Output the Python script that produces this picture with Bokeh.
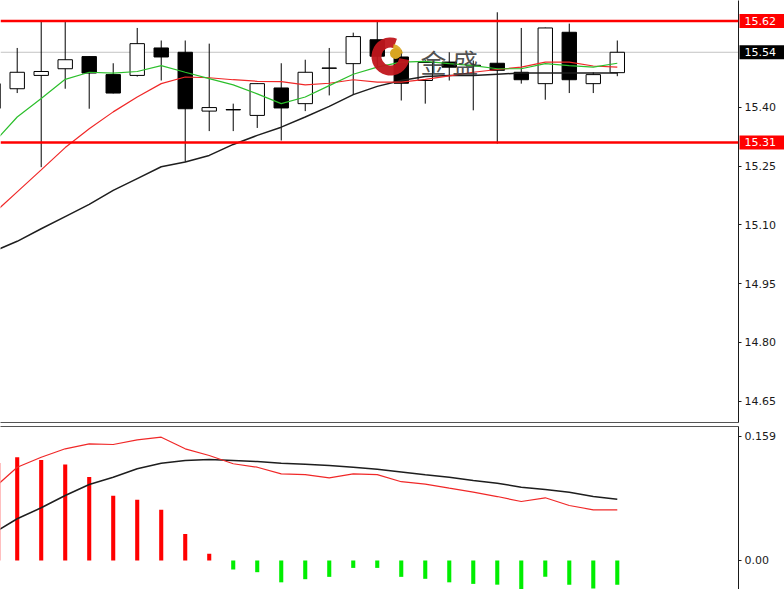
from bokeh.plotting import figure
from bokeh.models import Span, FixedTicker, Range1d, ColumnDataSource, NumeralTickFormatter, GridBox
from bokeh.core.properties import value
from bokeh.embed import file_html
from bokeh.resources import INLINE

# ---------------- data ----------------
bars = list(range(-1, 26))
opens = [15.397, 15.447, 15.481, 15.498, 15.529, 15.483, 15.481, 15.551, 15.540, 15.390,
         15.394, 15.379, 15.449, 15.409, 15.499, 15.511, 15.572, 15.528, 15.468, 15.515,
         15.505, 15.512, 15.489, 15.460, 15.591, 15.460, 15.488]
highs = [15.480, 15.551, 15.621, 15.621, 15.530, 15.512, 15.602, 15.570, 15.570, 15.562,
         15.409, 15.461, 15.512, 15.521, 15.551, 15.590, 15.619, 15.545, 15.520, 15.540,
         15.519, 15.642, 15.602, 15.603, 15.613, 15.489, 15.570]
lows = [15.370, 15.436, 15.247, 15.447, 15.396, 15.435, 15.478, 15.468, 15.260, 15.339,
        15.339, 15.347, 15.315, 15.390, 15.430, 15.432, 15.500, 15.417, 15.409, 15.468,
        15.392, 15.307, 15.460, 15.419, 15.436, 15.436, 15.479]
closes = [15.460, 15.489, 15.491, 15.521, 15.487, 15.436, 15.562, 15.528, 15.396, 15.399,
          15.393, 15.460, 15.398, 15.489, 15.500, 15.580, 15.530, 15.461, 15.514, 15.502,
          15.507, 15.494, 15.470, 15.602, 15.470, 15.483, 15.540]

ma_fast = [15.308, 15.375, 15.422, 15.471, 15.489, 15.487, 15.491, 15.506, 15.489, 15.473,
           15.457, 15.434, 15.409, 15.426, 15.455, 15.484, 15.502, 15.515, 15.517, 15.511,
           15.506, 15.498, 15.498, 15.511, 15.506, 15.502, 15.512]
ma_mid = [15.128, 15.184, 15.240, 15.297, 15.345, 15.388, 15.426, 15.460, 15.477, 15.475,
          15.470, 15.466, 15.465, 15.457, 15.461, 15.470, 15.464, 15.464, 15.471, 15.480,
          15.489, 15.496, 15.502, 15.515, 15.515, 15.505, 15.502]
ma_slow = [15.032, 15.058, 15.090, 15.121, 15.152, 15.188, 15.218, 15.248, 15.260, 15.277,
           15.305, 15.328, 15.349, 15.375, 15.402, 15.432, 15.453, 15.468, 15.478, 15.481,
           15.481, 15.484, 15.487, 15.487, 15.487, 15.487, 15.487]

macd_hist = [0.125, 0.1325, 0.129, 0.123, 0.107, 0.083, 0.078, 0.065, 0.034, 0.0086,
             -0.0115, -0.015, -0.028, -0.024, -0.021, -0.0095, -0.0095, -0.021, -0.0235, -0.028,
             -0.030, -0.031, -0.040, -0.021, -0.031, -0.036, -0.031]
macd_dif = [0.092, 0.1196, 0.1324, 0.1432, 0.1496, 0.1487, 0.1547, 0.1581, 0.1432, 0.1346,
            0.124, 0.1196, 0.111, 0.110, 0.106, 0.111, 0.110, 0.101, 0.098, 0.0927,
            0.0876, 0.082, 0.0756, 0.0804, 0.0705, 0.065, 0.065]
macd_dea = [0.035, 0.0535, 0.0676, 0.0833, 0.0974, 0.1068, 0.1176, 0.1247, 0.1282, 0.1295,
            0.1282, 0.1269, 0.1247, 0.1235, 0.1218, 0.1196, 0.1171, 0.1135, 0.1099, 0.1068,
            0.1026, 0.0991, 0.094, 0.091, 0.0876, 0.082, 0.0786]

price_ticks = [15.40, 15.25, 15.10, 14.95, 14.80, 14.65]
level_lines = [15.62, 15.31]
tag_prices = [15.62, 15.31, 15.54]
tag_texts = ["15.62", "15.31", "15.54"]
tag_colors = ["#ff0000", "#ff0000", "#000000"]
last_price = 15.54
macd_ticks = [0.0, 0.159]
macd_tick_labels = ["0.00", "0.159"]

FONT = "DejaVu Sans"
X_RANGE = (-0.696, 30.05)
W, H1, H2 = 784, 424, 165

# ---------------- main price panel ----------------
p1 = figure(width=W, height=H1, output_backend="svg", toolbar_location=None,
            x_range=Range1d(*X_RANGE), y_range=Range1d(14.596, 15.672),
            y_axis_location="right", min_border_left=0, min_border_top=0,
            min_border_bottom=2, min_border_right=46)
p1.grid.visible = False
p1.outline_line_color = None

xa = p1.xaxis[0]
xa.ticker = FixedTicker(ticks=[])
xa.major_tick_out = 0
xa.major_tick_in = 0
xa.minor_tick_out = 0
xa.minor_tick_in = 0
xa.major_label_standoff = 0
xa.major_label_text_font_size = "0px"
xa.axis_line_color = "#555555"

ya = p1.yaxis[0]
ya.ticker = FixedTicker(ticks=price_ticks)
ya.formatter = NumeralTickFormatter(format="0.00")
ya.major_tick_out = 3
ya.major_tick_in = 0
ya.minor_tick_line_color = None
ya.major_label_standoff = 3
ya.major_label_text_font = FONT
ya.major_label_text_font_size = "11px"
ya.major_label_text_color = "#1a1a1a"
ya.axis_line_color = "#1a1a1a"
ya.major_tick_line_color = "#1a1a1a"

p1.add_layout(Span(location=last_price, dimension="width", line_color="#c4c4c4",
                   line_width=1, level="underlay"))

src = ColumnDataSource(dict(
    x=bars, high=highs, low=lows,
    top=[max(o, c) for o, c in zip(opens, closes)],
    bottom=[min(o, c) for o, c in zip(opens, closes)],
    fill=["white" if c >= o else "black" for o, c in zip(opens, closes)],
))
p1.segment(x0="x", y0="low", x1="x", y1="high", source=src, line_color="black", line_width=1)
p1.vbar(x="x", top="top", bottom="bottom", width=0.6, source=src,
        fill_color="fill", line_color="black", line_width=1)

p1.line(bars, ma_slow, line_color="#1e1e1e", line_width=1.5)
p1.line(bars, ma_mid, line_color="#f02828", line_width=1.2)
p1.line(bars, ma_fast, line_color="#2cbf2c", line_width=1.2)

for lvl in level_lines:
    p1.add_layout(Span(location=lvl, dimension="width", line_color="#ff0000", line_width=2.5))

# watermark logo
p1.annular_wedge(x=[15.55], y=[15.529], inner_radius=9, outer_radius=19,
                 inner_radius_units="screen", outer_radius_units="screen",
                 start_angle=70, end_angle=350, start_angle_units="deg", end_angle_units="deg",
                 fill_color="#c0161c", line_color=None, fill_alpha=0.95)
p1.annular_wedge(x=[15.55], y=[15.529], inner_radius=9, outer_radius=13,
                 inner_radius_units="screen", outer_radius_units="screen",
                 start_angle=15, end_angle=75, start_angle_units="deg", end_angle_units="deg",
                 fill_color="#d9a520", line_color=None, fill_alpha=0.9)
p1.scatter(x=[15.76], y=[15.537], size=11, marker="circle", fill_color="#d9a520", line_color=None)
p1.text(x=[16.8], y=[15.517], text=["金 盛"], text_font=value("Noto Sans CJK SC"),
        text_font_size="26px", text_color="#333333", text_alpha=0.85, text_baseline="middle")

# ---------------- transparent overlay for the price tags on the axis ----------------
tags = figure(width=W, height=H1, output_backend="svg", toolbar_location=None,
              x_range=Range1d(0, W), y_range=p1.y_range,
              x_axis_type=None, y_axis_type=None,
              min_border_left=0, min_border_top=0, min_border_bottom=2, min_border_right=0)
if "frame_align" in tags.properties():
    tags.frame_align = False
tags.grid.visible = False
tags.outline_line_color = None
tags.background_fill_alpha = 0
tags.border_fill_alpha = 0
tsrc = ColumnDataSource(dict(y=tag_prices, text=tag_texts, color=tag_colors))
tags.rect(x=762, y="y", width=46, height=14, height_units="screen", source=tsrc,
          fill_color="color", line_color=None)
tags.text(x=744, y="y", text="text", source=tsrc, text_font=value(FONT),
          text_font_size="11px", text_color="white", text_baseline="middle")

# ---------------- MACD panel ----------------
p2 = figure(width=W, height=H2, output_backend="svg", toolbar_location=None,
            x_range=p1.x_range, y_range=Range1d(-0.0372, 0.1718),
            y_axis_location="right", x_axis_location="above",
            min_border_left=0, min_border_top=2, min_border_bottom=0, min_border_right=46)
p2.grid.visible = False
p2.outline_line_color = None

xb = p2.xaxis[0]
xb.ticker = FixedTicker(ticks=[])
xb.major_tick_out = 0
xb.major_tick_in = 0
xb.minor_tick_out = 0
xb.minor_tick_in = 0
xb.major_label_standoff = 0
xb.major_label_text_font_size = "0px"
xb.axis_line_color = "#555555"

yb = p2.yaxis[0]
yb.ticker = FixedTicker(ticks=macd_ticks)
yb.major_label_overrides = {t: s for t, s in zip(macd_ticks, macd_tick_labels)}
yb.major_tick_out = 3
yb.major_tick_in = 0
yb.minor_tick_line_color = None
yb.major_label_standoff = 3
yb.major_label_text_font = FONT
yb.major_label_text_font_size = "11px"
yb.major_label_text_color = "#1a1a1a"
yb.axis_line_color = "#1a1a1a"
yb.major_tick_line_color = "#1a1a1a"

hist_colors = ["#ff0000" if v >= 0 else "#00ee00" for v in macd_hist]
p2.vbar(x=bars, top=macd_hist, bottom=0, width=0.17, fill_color=hist_colors, line_color=None)
p2.line(bars, macd_dea, line_color="#1e1e1e", line_width=1.5)
p2.line(bars, macd_dif, line_color="#f02828", line_width=1.2)

layout = GridBox(children=[(p1, 0, 0), (tags, 0, 0), (p2, 1, 0)], spacing=0)
open("out.html", "w").write(file_html(layout, INLINE))
